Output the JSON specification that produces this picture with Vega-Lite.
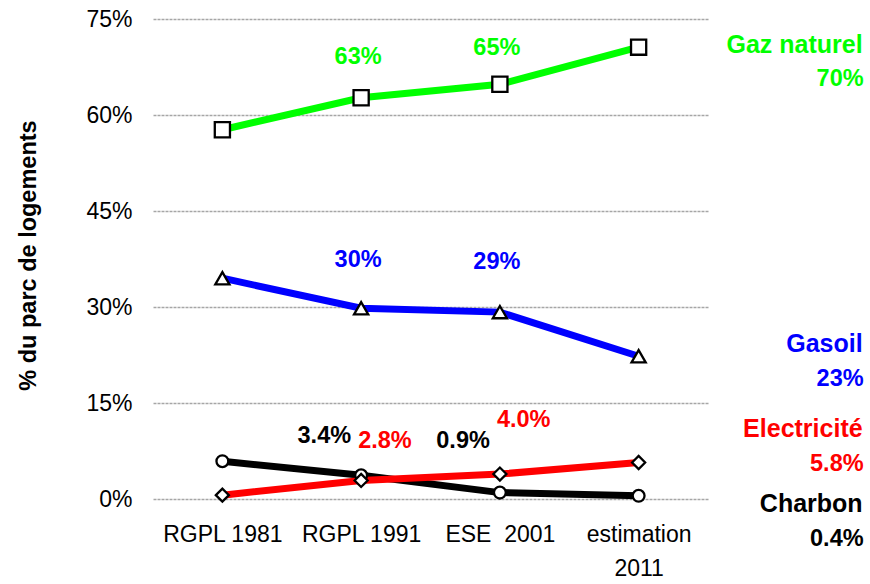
{
  "$schema": "https://vega.github.io/schema/vega-lite/v6.json",
  "width": 555,
  "height": 480,
  "autosize": {"type": "none"},
  "padding": {"left": 153, "top": 19, "right": 162, "bottom": 85},
  "background": "white",
  "config": {
    "view": {"stroke": null},
    "font": "Liberation Sans",
    "text": {"font": "Liberation Sans"}
  },
  "datasets": {
    "series": [
      {"series": "Charbon", "cat": "RGPL 1981", "value": 5.9},
      {"series": "Charbon", "cat": "RGPL 1991", "value": 3.7},
      {"series": "Charbon", "cat": "ESE  2001", "value": 1.0},
      {"series": "Charbon", "cat": "estimation 2011", "value": 0.5},
      {"series": "Electricité", "cat": "RGPL 1981", "value": 0.6},
      {"series": "Electricité", "cat": "RGPL 1991", "value": 2.9},
      {"series": "Electricité", "cat": "ESE  2001", "value": 3.9},
      {"series": "Electricité", "cat": "estimation 2011", "value": 5.7},
      {"series": "Gasoil", "cat": "RGPL 1981", "value": 34.5},
      {"series": "Gasoil", "cat": "RGPL 1991", "value": 29.8},
      {"series": "Gasoil", "cat": "ESE  2001", "value": 29.2},
      {"series": "Gasoil", "cat": "estimation 2011", "value": 22.3},
      {"series": "Gaz naturel", "cat": "RGPL 1981", "value": 57.7},
      {"series": "Gaz naturel", "cat": "RGPL 1991", "value": 62.7},
      {"series": "Gaz naturel", "cat": "ESE  2001", "value": 64.8},
      {"series": "Gaz naturel", "cat": "estimation 2011", "value": 70.6}
    ],
    "labels": [
      {"series": "Gaz naturel", "cat": "RGPL 1991", "label": "63%", "pos": 69.1},
      {"series": "Gaz naturel", "cat": "ESE  2001", "label": "65%", "pos": 70.5},
      {"series": "Gasoil", "cat": "RGPL 1991", "label": "30%", "pos": 37.3},
      {"series": "Gasoil", "cat": "ESE  2001", "label": "29%", "pos": 37.0},
      {"series": "Charbon", "cat": "RGPL 1991", "label": "3.4%", "pos": 9.8},
      {"series": "Charbon", "cat": "ESE  2001", "label": "0.9%", "pos": 9.0},
      {"series": "Electricité", "cat": "RGPL 1991", "label": "2.8%", "pos": 9.1},
      {"series": "Electricité", "cat": "ESE  2001", "label": "4.0%", "pos": 12.3}
    ],
    "endnames": [
      {"series": "Gaz naturel", "cat": "estimation 2011", "label": "Gaz naturel", "pos": 71.0},
      {"series": "Gasoil", "cat": "estimation 2011", "label": "Gasoil", "pos": 24.2},
      {"series": "Electricité", "cat": "estimation 2011", "label": "Electricité", "pos": 10.9},
      {"series": "Charbon", "cat": "estimation 2011", "label": "Charbon", "pos": -0.8}
    ],
    "endvalues": [
      {"series": "Gaz naturel", "cat": "estimation 2011", "label": "70%", "pos": 65.7},
      {"series": "Gasoil", "cat": "estimation 2011", "label": "23%", "pos": 18.75},
      {"series": "Electricité", "cat": "estimation 2011", "label": "5.8%", "pos": 5.5},
      {"series": "Charbon", "cat": "estimation 2011", "label": "0.4%", "pos": -6.25}
    ]
  },
  "encoding": {
    "x": {
      "field": "cat",
      "type": "nominal",
      "sort": ["RGPL 1981", "RGPL 1991", "ESE  2001", "estimation 2011"],
      "scale": {"type": "point", "padding": 0.5, "domain": ["RGPL 1981", "RGPL 1991", "ESE  2001", "estimation 2011"]},
      "axis": {
        "title": null,
        "labelAngle": 0,
        "domain": false,
        "ticks": false,
        "grid": false,
        "labelFont": "Liberation Sans",
        "labelFontSize": 23,
        "labelColor": "black",
        "labelPadding": 24,
        "labelBaseline": "top",
        "labelLineHeight": 34,
        "labelExpr": "datum.value == 'estimation 2011' ? ['estimation', '2011'] : replace(datum.value, '  ', '\u00a0 ')"
      }
    },
    "color": {
      "field": "series",
      "type": "nominal",
      "scale": {"domain": ["Charbon", "Electricité", "Gasoil", "Gaz naturel"], "range": ["#000000", "#ff0000", "#0000ff", "#00ff00"]},
      "legend": null
    }
  },
  "layer": [
    {
      "data": {"name": "series"},
      "mark": {"type": "line", "strokeWidth": 7},
      "encoding": {
        "y": {
          "field": "value",
          "type": "quantitative",
          "scale": {"domain": [0, 75], "nice": false, "zero": true},
          "axis": {
            "values": [0, 15, 30, 45, 60, 75],
            "labelExpr": "datum.value + '%'",
            "title": "% du parc de logements",
            "titleFont": "Liberation Sans",
            "titleFontSize": 23.5,
            "titleFontWeight": "bold",
            "titleColor": "black",
            "titleX": -125,
            "titleY": 236,
            "titleBaseline": "middle",
            "titleAngle": -90,
            "domain": false,
            "ticks": false,
            "labelFont": "Liberation Sans",
            "labelFontSize": 23,
            "labelColor": "black",
            "labelPadding": 21,
            "grid": true,
            "gridColor": "#a6a6a6",
            "gridDash": [3, 1],
            "gridWidth": 1.3
          }
        }
      }
    },
    {
      "data": {"name": "series"},
      "mark": {"type": "point", "filled": true, "fill": "white", "stroke": "black", "strokeWidth": 2.3, "opacity": 1},
      "encoding": {
        "y": {"field": "value", "type": "quantitative"},
        "shape": {
          "field": "series",
          "type": "nominal",
          "scale": {"domain": ["Charbon", "Electricité", "Gasoil", "Gaz naturel"], "range": ["circle", "diamond", "triangle-up", "square"]},
          "legend": null
        },
        "size": {
          "field": "series",
          "type": "ordinal",
          "scale": {"domain": ["Charbon", "Electricité", "Gasoil", "Gaz naturel"], "range": [140, 230, 210, 130]},
          "legend": null
        },
        "color": {"value": "black"}
      }
    },
    {
      "data": {"name": "labels"},
      "transform": [{"filter": "datum.series == 'Gaz naturel' || datum.series == 'Gasoil'"}],
      "mark": {"type": "text", "font": "Liberation Sans", "fontSize": 23.5, "fontWeight": "bold", "align": "center", "baseline": "middle", "dx": -3},
      "encoding": {
        "y": {"field": "pos", "type": "quantitative"},
        "text": {"field": "label"}
      }
    },
    {
      "data": {"name": "labels"},
      "transform": [{"filter": "datum.series == 'Charbon'"}],
      "mark": {"type": "text", "font": "Liberation Sans", "fontSize": 23.5, "fontWeight": "bold", "align": "right", "baseline": "middle", "dx": -10},
      "encoding": {
        "y": {"field": "pos", "type": "quantitative"},
        "text": {"field": "label"}
      }
    },
    {
      "data": {"name": "labels"},
      "transform": [{"filter": "datum.series == 'Electricité'"}],
      "mark": {"type": "text", "font": "Liberation Sans", "fontSize": 23.5, "fontWeight": "bold", "align": "left", "baseline": "middle", "dx": -3},
      "encoding": {
        "y": {"field": "pos", "type": "quantitative"},
        "text": {"field": "label"}
      }
    },
    {
      "data": {"name": "endnames"},
      "mark": {"type": "text", "font": "Liberation Sans", "fontSize": 25, "fontWeight": "bold", "align": "right", "baseline": "middle", "dx": 224},
      "encoding": {
        "y": {"field": "pos", "type": "quantitative"},
        "text": {"field": "label"}
      }
    },
    {
      "data": {"name": "endvalues"},
      "mark": {"type": "text", "font": "Liberation Sans", "fontSize": 23.5, "fontWeight": "bold", "align": "right", "baseline": "middle", "dx": 225},
      "encoding": {
        "y": {"field": "pos", "type": "quantitative"},
        "text": {"field": "label"}
      }
    }
  ]
}
